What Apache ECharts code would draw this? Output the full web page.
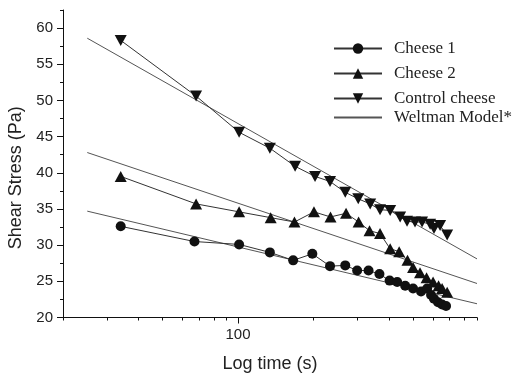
<!DOCTYPE html>
<html>
<head>
<meta charset="utf-8">
<script src="https://cdn.jsdelivr.net/npm/echarts@6/dist/echarts.min.js"></script>
<style>
  html, body { margin: 0; padding: 0; background: #fff; }
  #chart { width: 520px; height: 373px; }
</style>
</head>
<body>
<div id="chart"></div>
<script>
// Measured shear stress (Pa) against time (s) for each sample
const timesCheese1 = [34, 67, 101, 134, 166, 198, 233, 268, 299, 332, 367, 403, 432, 465, 500, 538, 569, 590, 606, 629, 653, 677];
const stressCheese1 = [32.6, 30.5, 30.1, 29.0, 27.9, 28.8, 27.1, 27.2, 26.5, 26.5, 26.0, 25.1, 24.9, 24.4, 24.0, 23.6, 24.0, 23.1, 22.6, 22.1, 21.8, 21.6];

const timesCheese2 = [34, 68, 101, 135, 168, 201, 234, 270, 303, 335, 369, 405, 440, 475, 500, 533, 566, 601, 632, 653, 684];
const stressCheese2 = [39.5, 35.7, 34.6, 33.8, 33.2, 34.6, 33.9, 34.4, 33.2, 32.0, 31.6, 29.5, 29.1, 27.9, 26.9, 26.2, 25.5, 24.9, 24.4, 24.0, 23.5];

const timesControl = [34, 68, 101, 134, 169, 203, 233, 268, 302, 337, 369, 405, 444, 473, 509, 543, 585, 606, 641, 684];
const stressControl = [58.3, 50.6, 45.6, 43.4, 40.9, 39.5, 38.8, 37.3, 36.4, 35.7, 34.9, 34.8, 33.9, 33.3, 33.2, 33.2, 32.9, 32.3, 32.7, 31.4];

// Weltman model fits (linear in log time): end points of each fitted line
const modelTimes = [25, 900];
const modelCheese1 = [34.7, 21.9];
const modelCheese2 = [42.8, 24.7];
const modelControl = [58.6, 28.1];

// Axis ticks
const yMajorTicks = [20, 25, 30, 35, 40, 45, 50, 55, 60];
const xLabelTicks = [100];
const xMinorTicks = [20, 30, 40, 50, 60, 70, 80, 90, 200, 300, 400, 500, 600, 700, 800, 900];

const pairs = (xs, ys) => xs.map((x, i) => [x, ys[i]]);

const sansFont = '"Liberation Sans", Arial, sans-serif';
const serifFont = '"Liberation Serif", "Times New Roman", serif';
const textColor = '#222';
const axisColor = '#111';

const chart = echarts.init(document.getElementById('chart'), null, { renderer: 'canvas' });

const markerSeries = (name, xs, ys, symbol, size, rotate) => ({
  name: name,
  type: 'line',
  xAxisIndex: 0,
  yAxisIndex: 0,
  data: pairs(xs, ys),
  symbol: symbol,
  symbolSize: size,
  symbolRotate: rotate || 0,
  showAllSymbol: true,
  itemStyle: { color: '#111' },
  lineStyle: { color: '#333', width: 1 },
  emphasis: { disabled: true },
  z: 3
});

const modelSeries = (ys) => ({
  name: 'Weltman Model*',
  type: 'line',
  xAxisIndex: 0,
  yAxisIndex: 0,
  data: pairs(modelTimes, ys),
  symbol: 'none',
  itemStyle: { color: '#555' },
  lineStyle: { color: '#555', width: 1 },
  emphasis: { disabled: true },
  z: 2
});

const legendText = { fontFamily: serifFont, fontSize: 17, color: textColor, padding: [0, 0, 0, 7] };

chart.setOption({
  animation: false,
  backgroundColor: '#fff',
  grid: { left: 63, right: 43, top: 10, bottom: 55.5, containLabel: false, outerBoundsMode: 'none' },
  legend: [
    {
      data: ['Cheese 1', 'Cheese 2', 'Control cheese'],
      orient: 'vertical',
      left: 333,
      top: 40,
      padding: 0,
      itemWidth: 48,
      itemHeight: 13,
      itemGap: 8,
      selectedMode: false,
      textStyle: legendText
    },
    {
      data: [{ name: 'Weltman Model*', itemStyle: { opacity: 0 } }],
      orient: 'vertical',
      left: 333,
      top: 109,
      padding: 0,
      itemWidth: 48,
      itemHeight: 13,
      selectedMode: false,
      textStyle: legendText
    }
  ],
  xAxis: [
    {
      type: 'log',
      logBase: 10,
      min: 20,
      max: 900,
      position: 'bottom',
      name: 'Log time (s)',
      nameLocation: 'middle',
      nameGap: 38,
      nameTextStyle: { fontFamily: sansFont, fontSize: 18, color: textColor },
      axisLine: { show: true, lineStyle: { color: axisColor, width: 1 } },
      axisTick: { show: true, inside: false, length: 6, customValues: xLabelTicks, lineStyle: { color: axisColor } },
      axisLabel: { show: true, customValues: xLabelTicks, margin: 10, fontFamily: sansFont, fontSize: 15, color: textColor },
      minorTick: { show: false },
      splitLine: { show: false }
    },
    {
      type: 'log',
      logBase: 10,
      min: 20,
      max: 900,
      position: 'bottom',
      offset: 0,
      axisLine: { show: false },
      axisTick: { show: true, inside: false, length: 3, customValues: xMinorTicks, lineStyle: { color: axisColor } },
      axisLabel: { show: false },
      splitLine: { show: false }
    }
  ],
  yAxis: [
    {
      type: 'value',
      min: 20,
      max: 62.5,
      interval: 2.5,
      position: 'left',
      name: 'Shear Stress (Pa)',
      nameLocation: 'middle',
      nameRotate: 90,
      nameGap: 38,
      nameTextStyle: { fontFamily: sansFont, fontSize: 18, color: textColor, padding: [0, 28, 0, 0] },
      axisLine: { show: true, lineStyle: { color: axisColor, width: 1 } },
      axisTick: { show: true, inside: false, length: 3, lineStyle: { color: axisColor } },
      axisLabel: { show: false },
      splitLine: { show: false }
    },
    {
      type: 'value',
      min: 20,
      max: 62.5,
      position: 'left',
      offset: 0,
      axisLine: { show: false },
      axisTick: { show: true, inside: false, length: 6, customValues: yMajorTicks, lineStyle: { color: axisColor } },
      axisLabel: { show: true, customValues: yMajorTicks, margin: 10, fontFamily: sansFont, fontSize: 15, color: textColor },
      splitLine: { show: false }
    }
  ],
  series: [
    markerSeries('Cheese 1', timesCheese1, stressCheese1, 'circle', 10),
    markerSeries('Cheese 2', timesCheese2, stressCheese2, 'triangle', [12, 11]),
    markerSeries('Control cheese', timesControl, stressControl, 'triangle', [12, 11], 180),
    modelSeries(modelCheese1),
    modelSeries(modelCheese2),
    modelSeries(modelControl)
  ]
});
</script>
</body>
</html>
